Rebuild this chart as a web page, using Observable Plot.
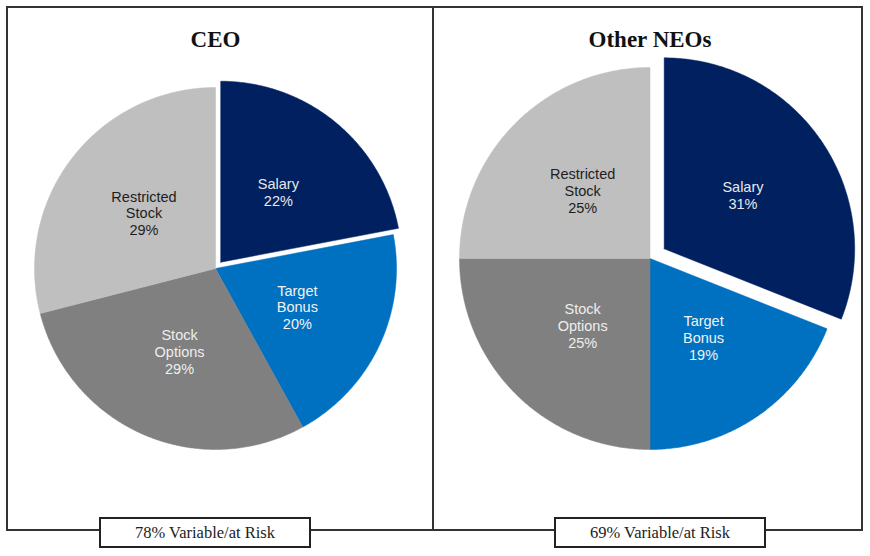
<!DOCTYPE html>
<html><head><meta charset="utf-8">
<script src="https://cdn.jsdelivr.net/npm/d3@7"></script>
<script src="https://cdn.jsdelivr.net/npm/@observablehq/plot@0.6"></script>
<style>
body{margin:0;background:#fff;width:870px;height:556px;position:relative;overflow:hidden}
.frame{position:absolute;border:2px solid #333;box-sizing:border-box}
.panel{position:absolute}
.box{position:absolute;border:2px solid #222;background:#fff;box-sizing:border-box;font:16.5px "Liberation Serif","Times New Roman",serif;text-align:center;color:#222;line-height:27px}
</style></head><body>
<div id="p0" class="panel" style="left:8px;top:8px"></div>
<div id="p1" class="panel" style="left:434px;top:8px"></div>
<div class="frame" style="left:6px;top:6px;width:428px;height:525px"></div>
<div class="frame" style="left:432px;top:6px;width:431px;height:525px"></div>
<div id="b0" class="box" style="left:99px;top:517px;width:212px;height:31px"></div>
<div id="b1" class="box" style="left:554px;top:517px;width:212px;height:31px"></div>
<script>
// ---- data ----
const categories = ["Salary", "Target Bonus", "Stock Options", "Restricted Stock"];
const labelLines = ["Salary", "Target\nBonus", "Stock\nOptions", "Restricted\nStock"];
const ceoValues = [22, 20, 29, 29];
const neoValues = [31, 19, 25, 25];
const titles = ["CEO", "Other NEOs"];
const riskLabels = ["78% Variable/at Risk", "69% Variable/at Risk"];
const colors = ["#002060", "#0070c0", "#808080", "#bfbfbf"];
const textColors = ["#e8e8e8", "#f2f2f2", "#eeeeee", "#1e1e1e"];

// ---- layout per panel ----
const panels = [
  {values: ceoValues, explode: 0.045, width: 424, height: 521, ml: 26, mr: 36, mt: 79, mb: 80, titleDy: -57},
  {values: neoValues, explode: 0.09, width: 427, height: 521, ml: 25, mr: 21, mt: 59, mb: 80, titleDy: -37}
];

function slices(values, explode) {
  const total = d3.sum(values);
  let acc = 0;
  return values.map((v, i) => {
    const start = acc / total; acc += v; const end = acc / total;
    const mid = (start + end) / 2 * 2 * Math.PI;
    const off = i === 0 ? explode : 0;
    const ox = off * Math.sin(mid), oy = off * Math.cos(mid);
    const n = Math.max(2, Math.ceil((end - start) * 720));
    const pts = [{x: ox, y: oy}];
    for (let k = 0; k <= n; k++) {
      const a = 2 * Math.PI * (start + (end - start) * k / n);
      pts.push({x: ox + Math.sin(a), y: oy + Math.cos(a)});
    }
    pts.push({x: ox, y: oy});
    return {
      category: categories[i], value: v, color: colors[i], textColor: textColors[i],
      pts, lx: ox + 0.5 * Math.sin(mid), ly: oy + 0.5 * Math.cos(mid),
      text: `${labelLines[i]}\n${v}%`
    };
  });
}

panels.forEach((p, j) => {
  const sl = slices(p.values, p.explode);
  const chart = Plot.plot({
    width: p.width, height: p.height,
    marginLeft: p.ml, marginRight: p.mr, marginTop: p.mt, marginBottom: p.mb,
    x: {domain: [-1, 1], axis: null},
    y: {domain: [-1, 1], axis: null},
    color: {type: "identity"},
    style: {background: "transparent", overflow: "visible"},
    marks: [
      ...sl.map(s => Plot.line(s.pts, {x: "x", y: "y", fill: s.color, stroke: s.color, strokeWidth: 0.5})),
      Plot.text(sl, {x: "lx", y: "ly", text: "text", fill: "textColor", fontSize: 14.5,
        lineHeight: 1.17, fontFamily: "Liberation Sans, Arial, sans-serif"}),
      Plot.text([titles[j]], {frameAnchor: "top", dy: p.titleDy, text: d => d, fontSize: 23,
        fontWeight: "bold", fontFamily: "Liberation Serif, Times New Roman, serif", fill: "#111"})
    ]
  });
  document.getElementById("p" + j).appendChild(chart);
  document.getElementById("b" + j).textContent = riskLabels[j];
});
</script>
</body></html>
